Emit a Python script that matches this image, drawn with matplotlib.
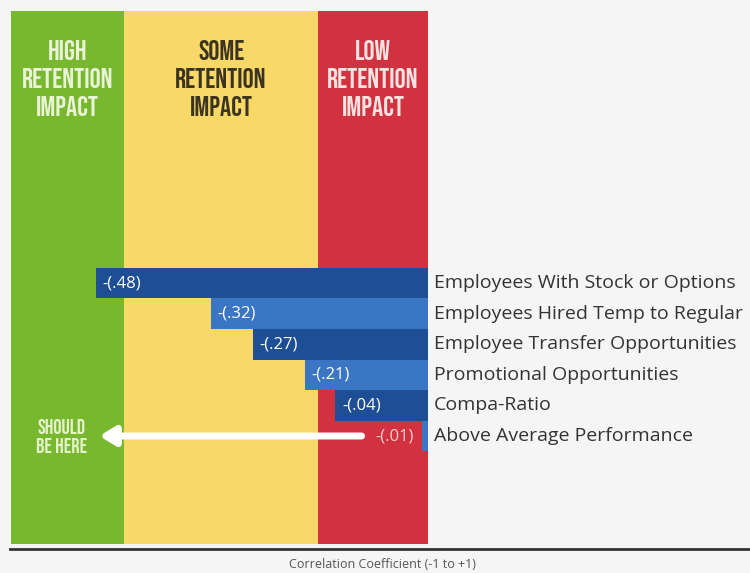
import matplotlib.pyplot as plt
import matplotlib.font_manager as fm

# Data
categories = [
    'Employees With Stock or Options',
    'Employees Hired Temp to Regular',
    'Employee Transfer Opportunities',
    'Promotional Opportunities',
    'Compa-Ratio',
    'Above Average Performance',
]
value_labels = ['-(.48)', '-(.32)', '-(.27)', '-(.21)', '-(.04)', '-(.01)']
# bar extents as drawn in the graphic (not strictly to scale with the labels)
bar_extent = [-0.480, -0.314, -0.253, -0.178, -0.134, -0.009]

zone_edges = [-0.603, -0.439, -0.159, 0.0]
zone_names = ['HIGH\nRETENTION\nIMPACT', 'SOME\nRETENTION\nIMPACT', 'LOW\nRETENTION\nIMPACT']
zone_colors = ['#78b82e', '#f8d866', '#d2323f']
zone_text_colors = ['#e9f3d6', '#3b3421', '#f8e2e2']

BG = '#f6f5f6'
DARK_BLUE = '#1e4f95'
LIGHT_BLUE = '#3b76c4'
BODY = ['Open Sans', 'DejaVu Sans']

# condensed display face for the headings (first one installed wins)
installed = {f.name for f in fm.fontManager.ttflist}
HEAD_FONT, HEAD_SIZE = 'DejaVu Sans', 11
for name, size in [('Bebas Neue', 20), ('Oswald', 16.5), ('Barlow Condensed', 19)]:
    if name in installed:
        HEAD_FONT, HEAD_SIZE = name, size
        break

fig = plt.figure(figsize=(7.5, 5.73), dpi=100, facecolor=BG)
ax = fig.add_axes([0, 0, 1, 1])
ax.set_facecolor(BG)
ax.axis('off')

# zero at x=428px, 692 px per unit; rows 30.6 px apart starting at y=283px
ax.set_xlim(-428 / 692, 322 / 692)
ax.set_ylim((573 - 283) / 30.6, -283 / 30.6)

# coloured zones
for i in range(3):
    ax.axvspan(zone_edges[i], zone_edges[i + 1], ymin=1 - 544 / 573, ymax=1 - 11 / 573,
               color=zone_colors[i], lw=0, zorder=0)
    ax.text((zone_edges[i] + zone_edges[i + 1]) / 2, 1 - 78 / 573, zone_names[i],
            transform=ax.get_xaxis_transform(), ha='center', va='center',
            fontsize=HEAD_SIZE, fontweight='bold', family=HEAD_FONT,
            color=zone_text_colors[i], linespacing=1.42)

# bars
rows = list(range(len(categories)))
colors = [DARK_BLUE if i % 2 == 0 else LIGHT_BLUE for i in rows]
ax.barh(rows, bar_extent, height=1.0, color=colors, lw=0, zorder=2)

for i, (v, lab, cat) in enumerate(zip(bar_extent, value_labels, categories)):
    ax.text(0.009, i, cat, ha='left', va='center', fontsize=14, family=BODY, color='#333333')
    if i < len(categories) - 1:
        ax.text(v + 0.01, i, lab, ha='left', va='center', fontsize=12, family=BODY,
                color='white', zorder=3)
    else:
        ax.text(v - 0.012, i, lab, ha='right', va='center', fontsize=12, family=BODY,
                color='#f7d3d3', zorder=3)

# arrow pointing to where the last item should be
last = len(categories) - 1
ax.annotate('', xy=(-0.475, last), xytext=(-0.096, last),
            arrowprops=dict(arrowstyle='-|>,head_length=0.9,head_width=0.55',
                            color='white', lw=5, shrinkA=0, shrinkB=0), zorder=3)
ax.text(-0.529, last, 'SHOULD\nBE HERE', ha='center', va='center',
        fontsize=HEAD_SIZE * 0.74, fontweight='bold', family=HEAD_FONT,
        color='#e6f2cc', linespacing=1.3)

# baseline and axis caption
ax.axhline((549 - 283) / 30.6, xmin=10 / 750, xmax=1, color='#333333', lw=2)
ax.text(382 / 750, 1 - 564 / 573, 'Correlation Coefficient (-1 to +1)', transform=ax.transAxes,
        ha='center', va='center', fontsize=9, family=BODY, color='#555555')

fig.savefig('out.png', dpi=100, facecolor=BG)
